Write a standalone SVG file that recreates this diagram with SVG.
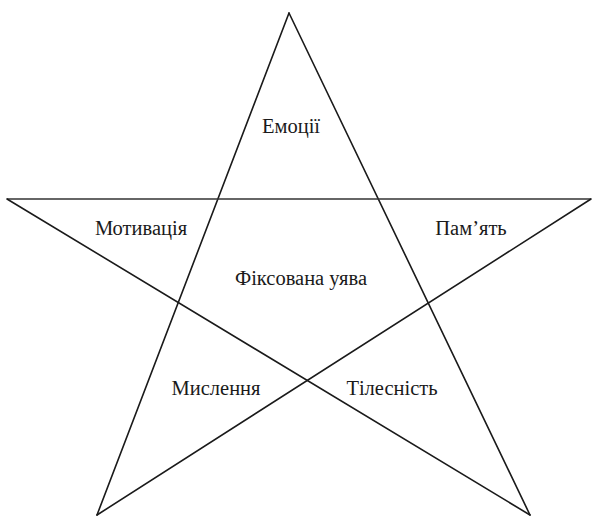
<svg xmlns="http://www.w3.org/2000/svg" width="594" height="516" viewBox="0 0 594 516">
<style>
.ln{stroke:#1a1a1a;stroke-width:1.6;fill:none;stroke-linecap:round}
.lh{stroke:#333;stroke-width:1.6;fill:none}
text{font-family:'Liberation Serif','Times New Roman','DejaVu Serif',serif;font-size:20.5px;fill:#1a1a1a;text-anchor:middle}
</style>
<rect width="594" height="516" fill="#fff"/>
<g id="connectors">
<line class="ln" x1="289" y1="13" x2="97" y2="515"/>
<line class="ln" x1="289" y1="13" x2="530" y2="515"/>
<line class="lh" x1="7" y1="199" x2="591" y2="199"/>
<line class="ln" x1="7" y1="199" x2="530" y2="515"/>
<line class="ln" x1="591" y1="199" x2="97" y2="515"/>
</g>
<g id="emotions"><text x="291" y="133">Емоції</text></g>
<g id="motivation"><text x="141" y="235">Мотивація</text></g>
<g id="memory"><text x="471" y="235">Пам’ять</text></g>
<g id="imagination"><text x="301" y="285">Фіксована уява</text></g>
<g id="thinking"><text x="216" y="395">Мислення</text></g>
<g id="body"><text x="392" y="395">Тілесність</text></g>
</svg>
